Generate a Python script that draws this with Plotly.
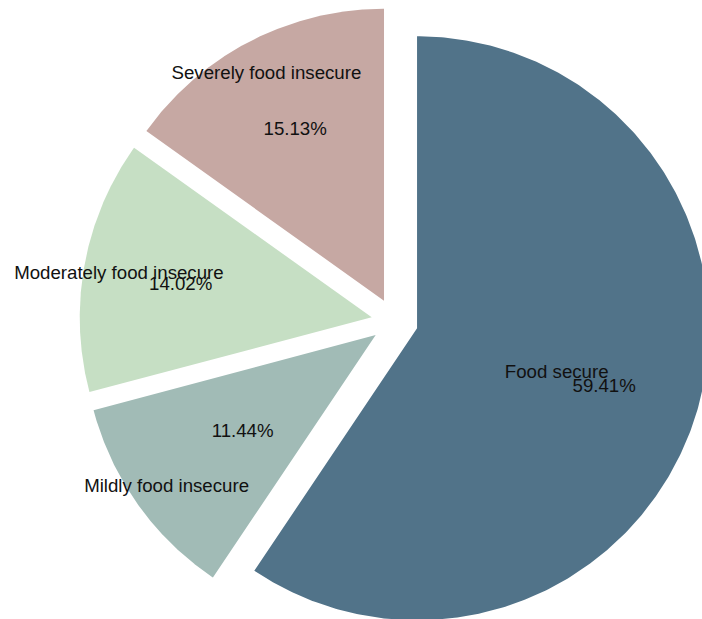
import numpy as np
import plotly.graph_objects as go

# Food security status shares (percent)
categories = ["Food secure", "Mildly food insecure", "Moderately food insecure", "Severely food insecure"]
shares = [59.41, 11.44, 14.02, 15.13]

# Styling
colors = ["#517389", "#a1bbb6", "#c6dfc4", "#c6a8a3"]
explode = 0.08          # outward shift of each wedge, in radius units
label_radius = [0.50, 0.88, 0.88, 0.88]
pct_radius = [0.67, 0.56, 0.665, 0.665]
font = dict(family="Liberation Sans, Arial, sans-serif", size=18.67, color="#111111")

# one radius unit = 292 px; pie centre sits at (394.7, 321.5) px from top-left
W, H, R, CX, CY = 702, 619, 292.0, 394.7, 321.5
text_dy = -2.5 / R      # small baseline nudge for the text rows

fig = go.Figure()

total = float(sum(shares))
start = 90.0  # first wedge begins at 12 o'clock, wedges run clockwise
label_x, label_y, pct_x, pct_y, pct_txt = [], [], [], [], []
for name, val, col, lr, pr in zip(categories, shares, colors, label_radius, pct_radius):
    sweep = 360.0 * val / total
    t1, t2 = start, start - sweep
    mid = np.deg2rad((t1 + t2) / 2)
    cx, cy = explode * np.cos(mid), explode * np.sin(mid)
    th = np.deg2rad(np.linspace(t1, t2, 400))
    xs = np.concatenate([[cx], cx + np.cos(th), [cx]])
    ys = np.concatenate([[cy], cy + np.sin(th), [cy]])
    fig.add_trace(go.Scatter(
        x=xs, y=ys, mode="lines", fill="toself", fillcolor=col,
        line=dict(width=0, color=col), hoverinfo="skip", showlegend=False,
    ))
    label_x.append(cx + lr * np.cos(mid))
    label_y.append(cy + lr * np.sin(mid) + text_dy)
    pct_x.append(cx + pr * np.cos(mid))
    pct_y.append(cy + pr * np.sin(mid) + text_dy)
    pct_txt.append(f"{val:.2f}%")
    start = t2

fig.add_trace(go.Scatter(
    x=label_x, y=label_y, mode="text", text=categories,
    textposition="middle center", textfont=font, hoverinfo="skip", showlegend=False,
))
fig.add_trace(go.Scatter(
    x=pct_x, y=pct_y, mode="text", text=pct_txt,
    textposition="middle center", textfont=font, hoverinfo="skip", showlegend=False,
))

fig.update_layout(
    width=W, height=H, margin=dict(l=0, r=0, t=0, b=0),
    paper_bgcolor="white", plot_bgcolor="white",
    xaxis=dict(range=[-CX / R, (W - CX) / R], visible=False, fixedrange=True),
    yaxis=dict(range=[-(H - CY) / R, CY / R], visible=False, fixedrange=True),
    showlegend=False,
)

fig.write_html("out.html", config={"displayModeBar": False})
